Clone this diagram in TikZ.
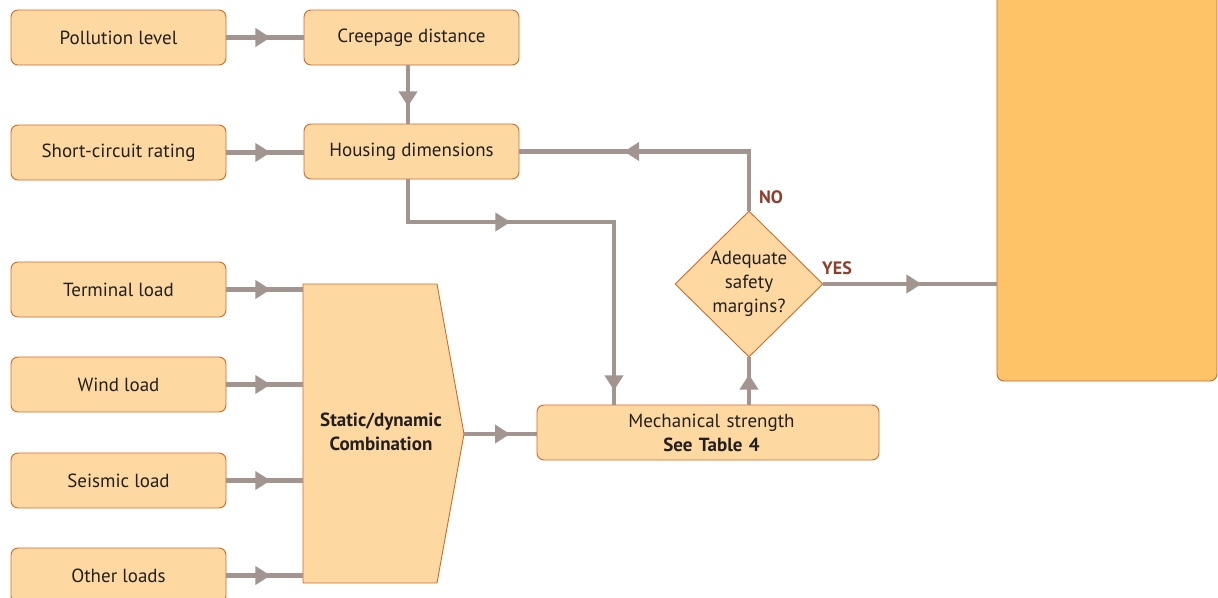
\documentclass[tikz,border=0pt]{standalone}
\usepackage{fontspec}
\setmainfont{PT Sans}
\usetikzlibrary{shapes.geometric,arrows.meta,decorations.markings,calc}
\definecolor{boxfill}{HTML}{FDD9A1}
\definecolor{boxline}{HTML}{D2692A}
\definecolor{resfill}{HTML}{FDC366}
\definecolor{conncol}{HTML}{A2958F}
\definecolor{txt}{HTML}{231F20}
\definecolor{lbl}{HTML}{8F3D2B}
\tikzset{
  box/.style={draw=boxline, fill=boxfill, rounded corners=7pt, line width=0.9pt,
    minimum width=215pt, minimum height=55pt, inner sep=0pt, align=center,
    font=\fontsize{19}{24}\selectfont, text=txt},
  conn/.style={color=conncol, line width=4.5pt},
  arrowat/.style={postaction={decorate, decoration={markings,
    mark=at position #1 with {\arrow{Triangle[length=15pt,width=18pt]}}}}},
  lab/.style={font=\fontsize{18}{22}\selectfont\bfseries, text=lbl},
}
\begin{document}
\begin{tikzpicture}[x=1pt,y=-1pt]
\useasboundingbox (0,0) rectangle (1218,597);
% nodes
\node[box] (poll) at (118.5,37.5) {Pollution level};
\node[box] (creep) at (411.5,37.5) {Creepage distance};
\node[box] (short) at (118.5,152.5) {Short-circuit rating};
\node[box] (hous) at (411.5,151.5) {Housing dimensions};
\node[box] (term) at (118.5,289.5) {Terminal load};
\node[box] (wind) at (118.5,384.5) {Wind load};
\node[box] (seis) at (118.5,480.5) {Seismic load};
\node[box] (other) at (118.5,575.5) {Other loads};
\node[box, minimum width=342pt, text width=330pt] (mech) at (708,432.5)
  {\hspace*{7pt}Mechanical strength\\\hspace*{7pt}\textbf{See Table 4}};
% combination shape
\draw[draw=boxline, fill=boxfill, line width=0.9pt]
  (303,284) -- (437,284) -- (464,434) -- (437,583) -- (303,583) -- cycle;
\node[font=\fontsize{19}{23.5}\selectfont\bfseries, text=txt, align=center,
  inner sep=0pt] (comb) at (381,432)
  {Static/dynamic\\Combination};
\coordinate (combw) at (303,433.5);
\coordinate (combtip) at (464,434);
% diamond
\node[diamond, draw=boxline, fill=boxfill, line width=0.9pt, minimum width=148pt,
  minimum height=146pt, inner sep=0pt, align=center, text=txt,
  font=\fontsize{19}{24}\selectfont] (dec) at (749,284)
  {Adequate\\safety\\margins?};
% result box
\node[draw=boxline, fill=resfill, rounded corners=7pt, line width=0.9pt,
  minimum width=220pt, minimum height=396pt, inner sep=0pt] (res) at (1107,183) {};
% connectors
\draw[conn, arrowat=44pt] (poll.east) -- (creep.west |- poll.east);
\draw[conn, arrowat=41pt] (creep.south -| 408,0) -- (hous.north -| 408,0);
\draw[conn, arrowat=44pt] (short.east) -- (hous.west |- short.east);
\coordinate (mj) at (614,405);
\draw[conn, arrowat=145pt, arrowat=417pt] (hous.south -| 408,0) -- (408,222) -| (mj);
\draw[conn, arrowat=184pt] (dec.north) |- (hous.east);
\draw[conn, arrowat=44pt] (term.east) -- (term.east -| combw);
\draw[conn, arrowat=44pt] (wind.east) -- (wind.east -| combw);
\draw[conn, arrowat=44pt] (seis.east) -- (seis.east -| combw);
\draw[conn, arrowat=44pt] (other.east) -- (other.east -| combw);
\draw[conn, arrowat=46pt] (combtip) -- (mech.west |- combtip);
\draw[conn, arrowat=30pt] (mech.north -| dec.south) -- (dec.south);
\draw[conn, arrowat=98pt] (dec.east) -- (res.west |- dec.east);
% labels
\node[lab] (no) at (771,197) {NO};
\node[lab] (yes) at (837,268) {YES};
\end{tikzpicture}
\end{document}
